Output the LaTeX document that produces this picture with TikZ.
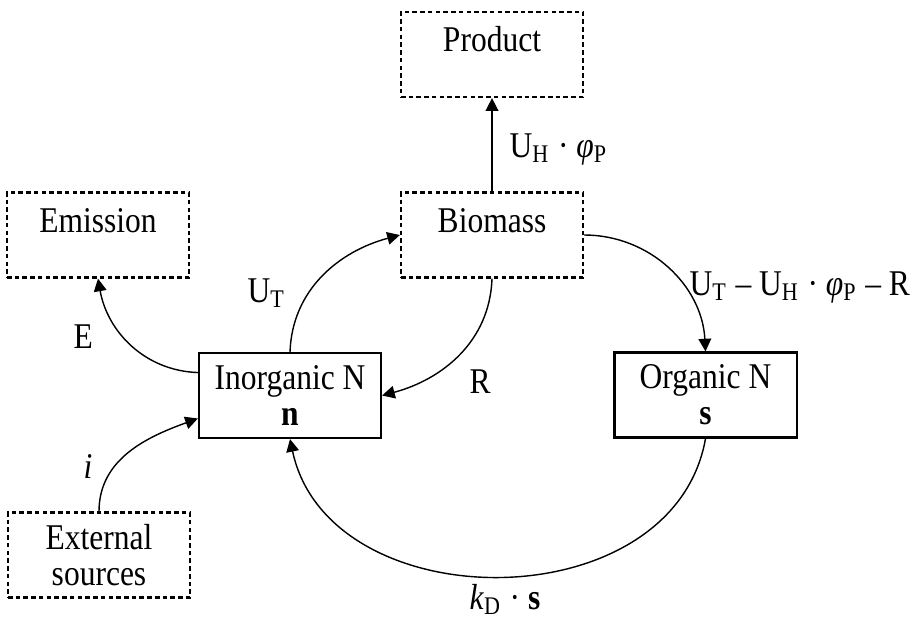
\documentclass[tikz,border=0pt]{standalone}
\usepackage{fontspec}
\setmainfont{Liberation Serif}[FakeStretch=0.87]
\usetikzlibrary{arrows.meta, positioning}

\begin{document}
\begin{tikzpicture}[
    x=0.01cm, y=-0.01cm,
    >={Triangle[length=3.6pt, width=3.6pt]},
    font=\fontsize{10.3}{10.2}\selectfont,
    pool/.style={draw, line width=0.6pt, minimum width=1.82cm, minimum height=0.85cm, inner sep=0pt, align=center},
    outside/.style={pool, dash pattern=on 1.3pt off 0.9pt},
    oneline/.style={text height=6.9pt, text depth=8.6pt},
    flow/.style={->, line width=0.4pt},
    rate/.style={anchor=base west, inner sep=0pt}
]
\useasboundingbox (0,0) rectangle (910,623);

% Pools of nitrogen
\node[pool] (inorg) at (290,395.5) {Inorganic N\\\textbf{n}};
\node[pool] (org) at (705.5,395) {Organic N\\\textbf{s}};

% Compartments outside the system
\node[outside, oneline] (product) at (492,54.5) {Product};
\node[outside, oneline] (biomass) at (492,235) {Biomass};
\node[outside, oneline] (emission) at (98,235) {Emission};
\node[outside] (ext) at (99,555) {External\\sources};

% Fluxes
\draw[flow] (biomass.north) -- (product.south);
\draw[flow] (inorg.north) to[out=88, in=195] (biomass.west);
\draw[flow] (inorg.166) to[out=178, in=-80] (emission.south);
\draw[flow] (biomass.south) to[out=-92, in=15] (inorg.east);
\draw[flow] (biomass.east) to[out=0, in=93] (org.north);
\draw[flow] (ext.north) to[out=90, in=200] (inorg.194);
\draw[flow] (org.south) to[out=-100, in=-78, looseness=1.15] (inorg.south);

% Rates
\node[rate] (uh) at (509,157) {U\textsubscript{H} · \textit{φ}\textsubscript{P}};
\node[rate] (ut) at (247,302) {U\textsubscript{T}};
\node[rate] (e) at (73,348) {E};
\node[rate] (r) at (469,393) {R};
\node[rate] (net) at (689,295) {U\textsubscript{T} -- U\textsubscript{H} · \textit{φ}\textsubscript{P} -- R};
\node[rate] (i) at (83,478) {\textit{i}};
\node[rate] (kd) at (469,609) {\textit{k}\textsubscript{D} · \textbf{s}};

\end{tikzpicture}
\end{document}
